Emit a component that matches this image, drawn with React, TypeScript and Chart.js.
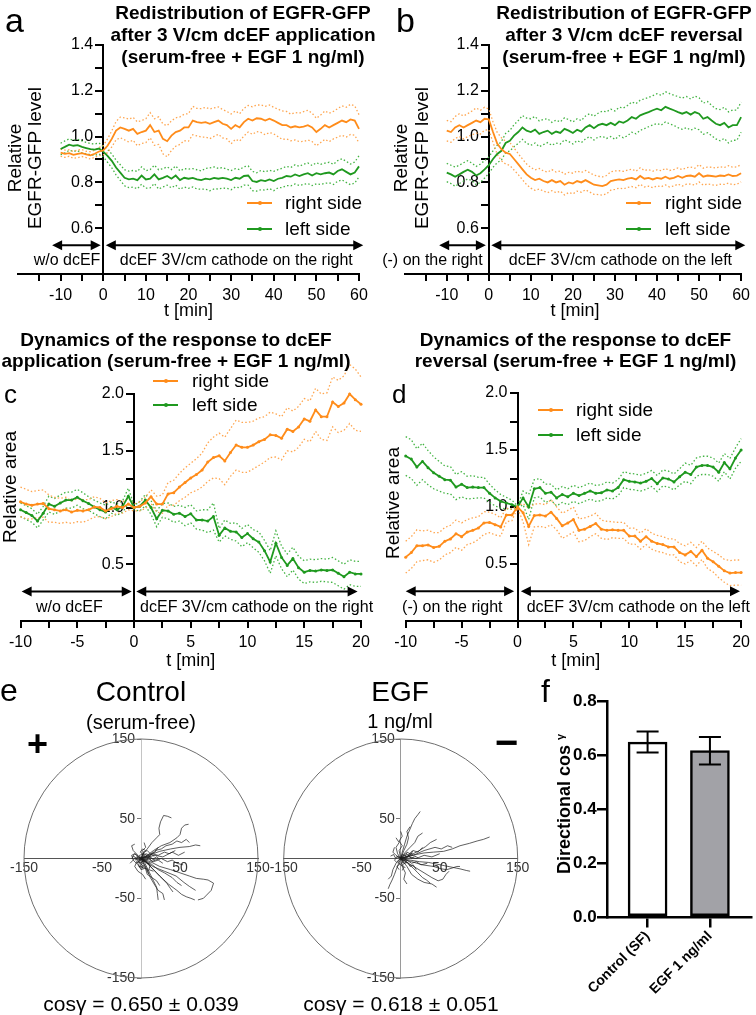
import React, { useEffect, useRef } from "react";
import { Chart, registerables } from "chart.js";

Chart.register(...registerables);

const FONT = '"Liberation Sans", Arial, Helvetica, sans-serif';
Chart.defaults.font.family = FONT;
Chart.defaults.color = "#000";

const ORANGE = "#ff8c1a";
const ORANGE_DOT = "#ffa650";
const GREEN = "#1f991f";
const GREEN_DOT = "#44b444";

// ---------- panels a / b : time (min) ----------
const timeAB = [-10, -9, -8, -7, -6, -5, -4, -3, -2, -1, 0, 1, 2, 3, 4, 5, 6, 7, 8, 9, 10, 11, 12, 13, 14, 15, 16, 17, 18, 19, 20, 21, 22, 23, 24, 25, 26, 27, 28, 29, 30, 31, 32, 33, 34, 35, 36, 37, 38, 39, 40, 41, 42, 43, 44, 45, 46, 47, 48, 49, 50, 51, 52, 53, 54, 55, 56, 57, 58, 59, 60];

const aRightMean = [0.930, 0.925, 0.928, 0.920, 0.925, 0.928, 0.922, 0.918, 0.925, 0.935, 0.940, 0.960, 0.990, 1.026, 1.040, 1.034, 1.026, 1.034, 1.012, 1.020, 1.026, 1.050, 1.020, 1.026, 0.990, 0.980, 1.004, 1.020, 1.026, 1.040, 1.040, 1.070, 1.063, 1.060, 1.063, 1.056, 1.063, 1.070, 1.056, 1.050, 1.034, 1.050, 1.040, 1.063, 1.078, 1.070, 1.080, 1.078, 1.070, 1.078, 1.070, 1.060, 1.050, 1.050, 1.040, 1.045, 1.040, 1.044, 1.050, 1.040, 1.020, 1.034, 1.050, 1.040, 1.050, 1.060, 1.070, 1.063, 1.075, 1.070, 1.034];
const aRightSem = [0.015, 0.016, 0.014, 0.015, 0.017, 0.015, 0.014, 0.016, 0.015, 0.018, 0.020, 0.030, 0.035, 0.040, 0.045, 0.048, 0.050, 0.050, 0.052, 0.050, 0.052, 0.055, 0.058, 0.060, 0.065, 0.068, 0.065, 0.062, 0.060, 0.058, 0.060, 0.062, 0.060, 0.062, 0.065, 0.065, 0.062, 0.060, 0.062, 0.060, 0.065, 0.062, 0.060, 0.060, 0.058, 0.060, 0.058, 0.060, 0.062, 0.060, 0.058, 0.060, 0.062, 0.060, 0.058, 0.060, 0.062, 0.065, 0.065, 0.062, 0.060, 0.060, 0.062, 0.062, 0.060, 0.062, 0.064, 0.065, 0.066, 0.064, 0.062];
const aLeftMean = [0.946, 0.955, 0.965, 0.960, 0.963, 0.955, 0.950, 0.945, 0.943, 0.948, 0.934, 0.916, 0.894, 0.865, 0.843, 0.820, 0.813, 0.816, 0.810, 0.830, 0.813, 0.816, 0.835, 0.813, 0.820, 0.828, 0.816, 0.830, 0.810, 0.820, 0.816, 0.820, 0.813, 0.810, 0.816, 0.813, 0.820, 0.816, 0.820, 0.816, 0.810, 0.820, 0.816, 0.828, 0.830, 0.806, 0.802, 0.810, 0.806, 0.813, 0.806, 0.816, 0.820, 0.828, 0.825, 0.835, 0.828, 0.835, 0.840, 0.830, 0.840, 0.835, 0.840, 0.843, 0.835, 0.850, 0.857, 0.846, 0.835, 0.843, 0.870];
const aLeftSem = [0.025, 0.026, 0.025, 0.024, 0.025, 0.026, 0.025, 0.024, 0.025, 0.024, 0.022, 0.028, 0.030, 0.032, 0.034, 0.035, 0.036, 0.036, 0.038, 0.038, 0.038, 0.040, 0.040, 0.042, 0.040, 0.040, 0.040, 0.042, 0.040, 0.040, 0.042, 0.040, 0.042, 0.040, 0.045, 0.050, 0.048, 0.045, 0.045, 0.042, 0.042, 0.040, 0.040, 0.040, 0.042, 0.042, 0.040, 0.042, 0.040, 0.040, 0.042, 0.040, 0.042, 0.042, 0.040, 0.042, 0.042, 0.044, 0.045, 0.044, 0.046, 0.044, 0.044, 0.045, 0.044, 0.045, 0.046, 0.046, 0.045, 0.046, 0.046];

const bRightMean = [1.026, 1.020, 1.040, 1.050, 1.040, 1.050, 1.060, 1.070, 1.063, 1.078, 1.075, 1.020, 0.970, 0.945, 0.930, 0.924, 0.902, 0.880, 0.857, 0.835, 0.820, 0.810, 0.816, 0.806, 0.800, 0.810, 0.800, 0.806, 0.790, 0.800, 0.795, 0.806, 0.800, 0.810, 0.800, 0.790, 0.787, 0.784, 0.790, 0.806, 0.810, 0.813, 0.810, 0.816, 0.820, 0.813, 0.828, 0.816, 0.820, 0.813, 0.820, 0.816, 0.825, 0.816, 0.820, 0.828, 0.820, 0.828, 0.830, 0.825, 0.840, 0.825, 0.830, 0.828, 0.825, 0.830, 0.828, 0.835, 0.828, 0.830, 0.840];
const bRightSem = [0.045, 0.045, 0.048, 0.050, 0.050, 0.050, 0.052, 0.055, 0.052, 0.050, 0.045, 0.045, 0.048, 0.050, 0.050, 0.050, 0.048, 0.046, 0.045, 0.045, 0.045, 0.045, 0.045, 0.044, 0.045, 0.046, 0.045, 0.044, 0.045, 0.044, 0.045, 0.044, 0.043, 0.042, 0.042, 0.042, 0.040, 0.040, 0.040, 0.040, 0.040, 0.038, 0.038, 0.038, 0.038, 0.036, 0.036, 0.036, 0.036, 0.036, 0.035, 0.035, 0.036, 0.036, 0.036, 0.035, 0.036, 0.036, 0.037, 0.037, 0.038, 0.037, 0.037, 0.038, 0.038, 0.038, 0.037, 0.038, 0.038, 0.038, 0.038];
const bLeftMean = [0.843, 0.835, 0.825, 0.835, 0.846, 0.855, 0.846, 0.830, 0.840, 0.857, 0.875, 0.902, 0.924, 0.938, 0.972, 0.982, 1.004, 1.020, 1.040, 1.026, 1.020, 1.030, 1.012, 1.020, 1.026, 1.012, 1.022, 1.016, 1.034, 1.026, 1.016, 1.030, 1.022, 1.040, 1.050, 1.037, 1.050, 1.056, 1.050, 1.060, 1.050, 1.066, 1.060, 1.070, 1.085, 1.078, 1.093, 1.100, 1.107, 1.115, 1.122, 1.115, 1.130, 1.122, 1.115, 1.107, 1.100, 1.107, 1.096, 1.107, 1.100, 1.078, 1.085, 1.070, 1.056, 1.050, 1.060, 1.040, 1.050, 1.050, 1.085];
const bLeftSem = [0.040, 0.040, 0.042, 0.040, 0.040, 0.040, 0.038, 0.040, 0.040, 0.038, 0.036, 0.036, 0.038, 0.040, 0.042, 0.045, 0.048, 0.050, 0.052, 0.055, 0.058, 0.058, 0.056, 0.055, 0.052, 0.050, 0.050, 0.048, 0.048, 0.048, 0.048, 0.048, 0.048, 0.050, 0.050, 0.052, 0.052, 0.055, 0.058, 0.060, 0.062, 0.062, 0.065, 0.066, 0.066, 0.066, 0.066, 0.065, 0.064, 0.064, 0.065, 0.065, 0.066, 0.066, 0.066, 0.068, 0.068, 0.068, 0.068, 0.070, 0.070, 0.068, 0.068, 0.066, 0.066, 0.068, 0.068, 0.068, 0.066, 0.066, 0.066];

// ---------- panels c / d : time (min) ----------
const timeCD = [-10, -9.5, -9, -8.5, -8, -7.5, -7, -6.5, -6, -5.5, -5, -4.5, -4, -3.5, -3, -2.5, -2, -1.5, -1, -0.5, 0, 0.5, 1, 1.5, 2, 2.5, 3, 3.5, 4, 4.5, 5, 5.5, 6, 6.5, 7, 7.5, 8, 8.5, 9, 9.5, 10, 10.5, 11, 11.5, 12, 12.5, 13, 13.5, 14, 14.5, 15, 15.5, 16, 16.5, 17, 17.5, 18, 18.5, 19, 19.5, 20];

const cRightMean = [1.05, 1.03, 1.02, 1.03, 1.035, 0.99, 0.98, 0.97, 0.98, 0.96, 0.975, 0.97, 0.98, 1.005, 1.0, 0.97, 0.99, 1.01, 1.0, 1.03, 1.0, 1.01, 1.04, 1.095, 1.03, 1.03, 1.12, 1.13, 1.18, 1.22, 1.26, 1.29, 1.33, 1.40, 1.44, 1.455, 1.41, 1.485, 1.55, 1.53, 1.53, 1.55, 1.58, 1.60, 1.64, 1.635, 1.61, 1.69, 1.67, 1.71, 1.78, 1.76, 1.86, 1.80, 1.80, 1.93, 1.89, 1.92, 2.0, 1.95, 1.91];
const cRightSem = [0.13, 0.13, 0.12, 0.12, 0.12, 0.12, 0.11, 0.11, 0.11, 0.10, 0.10, 0.10, 0.09, 0.09, 0.08, 0.07, 0.07, 0.06, 0.05, 0.05, 0.03, 0.04, 0.05, 0.06, 0.07, 0.08, 0.10, 0.11, 0.12, 0.13, 0.13, 0.14, 0.15, 0.17, 0.18, 0.20, 0.21, 0.21, 0.22, 0.22, 0.22, 0.21, 0.21, 0.20, 0.20, 0.19, 0.19, 0.19, 0.18, 0.18, 0.18, 0.18, 0.19, 0.20, 0.21, 0.22, 0.23, 0.24, 0.26, 0.27, 0.24];
const cLeftMean = [0.98, 0.955, 0.93, 0.88, 0.95, 1.03, 1.01, 1.04, 1.065, 1.065, 1.09, 1.06, 1.035, 1.005, 0.98, 0.96, 1.0, 0.98, 1.01, 1.10, 1.0, 1.01, 1.065, 1.0, 0.90, 0.975, 0.97, 0.94, 0.95, 0.92, 0.945, 0.89, 0.89, 0.88, 0.92, 0.755, 0.82, 0.79, 0.785, 0.735, 0.77, 0.725, 0.695, 0.62, 0.52, 0.685, 0.56, 0.49, 0.55, 0.47, 0.43, 0.445, 0.44, 0.45, 0.445, 0.45, 0.42, 0.39, 0.43, 0.415, 0.415];
const cLeftSem = [0.06, 0.06, 0.06, 0.06, 0.06, 0.07, 0.07, 0.07, 0.07, 0.07, 0.07, 0.07, 0.06, 0.06, 0.06, 0.06, 0.05, 0.05, 0.05, 0.07, 0.02, 0.04, 0.05, 0.06, 0.07, 0.06, 0.07, 0.07, 0.07, 0.08, 0.08, 0.08, 0.09, 0.10, 0.12, 0.06, 0.07, 0.07, 0.08, 0.08, 0.08, 0.08, 0.09, 0.09, 0.10, 0.11, 0.10, 0.10, 0.10, 0.10, 0.10, 0.10, 0.10, 0.10, 0.10, 0.11, 0.11, 0.11, 0.11, 0.11, 0.11];

const dRightMean = [0.56, 0.60, 0.66, 0.66, 0.667, 0.645, 0.655, 0.70, 0.72, 0.765, 0.74, 0.78, 0.795, 0.815, 0.86, 0.865, 0.845, 0.825, 0.93, 0.93, 1.0, 0.95, 0.83, 0.925, 0.93, 0.92, 0.955, 0.90, 0.835, 0.86, 0.89, 0.795, 0.805, 0.83, 0.855, 0.805, 0.795, 0.80, 0.795, 0.795, 0.745, 0.745, 0.70, 0.74, 0.70, 0.68, 0.67, 0.65, 0.65, 0.60, 0.58, 0.61, 0.565, 0.62, 0.55, 0.52, 0.48, 0.44, 0.42, 0.425, 0.425];
const dRightSem = [0.14, 0.14, 0.14, 0.13, 0.13, 0.13, 0.12, 0.12, 0.12, 0.12, 0.12, 0.11, 0.11, 0.10, 0.10, 0.09, 0.09, 0.08, 0.06, 0.05, 0.01, 0.08, 0.16, 0.10, 0.10, 0.10, 0.11, 0.10, 0.11, 0.11, 0.11, 0.10, 0.10, 0.09, 0.09, 0.08, 0.08, 0.07, 0.07, 0.07, 0.07, 0.07, 0.07, 0.07, 0.07, 0.07, 0.07, 0.07, 0.07, 0.08, 0.08, 0.08, 0.08, 0.08, 0.09, 0.09, 0.10, 0.10, 0.11, 0.11, 0.11];
const dLeftMean = [1.447, 1.42, 1.35, 1.40, 1.345, 1.30, 1.27, 1.24, 1.235, 1.175, 1.20, 1.17, 1.175, 1.17, 1.17, 1.12, 1.08, 1.05, 1.035, 1.02, 1.0, 1.08, 1.0, 1.16, 1.17, 1.12, 1.13, 1.08, 1.11, 1.09, 1.12, 1.10, 1.12, 1.14, 1.12, 1.125, 1.15, 1.14, 1.17, 1.24, 1.225, 1.22, 1.21, 1.225, 1.25, 1.205, 1.255, 1.245, 1.22, 1.265, 1.305, 1.285, 1.35, 1.365, 1.365, 1.35, 1.305, 1.39, 1.335, 1.43, 1.50];
const dLeftSem = [0.17, 0.17, 0.16, 0.16, 0.15, 0.14, 0.13, 0.12, 0.12, 0.11, 0.11, 0.10, 0.10, 0.09, 0.09, 0.08, 0.07, 0.06, 0.05, 0.04, 0.01, 0.06, 0.11, 0.08, 0.08, 0.08, 0.07, 0.07, 0.07, 0.07, 0.07, 0.07, 0.07, 0.07, 0.07, 0.07, 0.07, 0.07, 0.07, 0.07, 0.07, 0.07, 0.07, 0.07, 0.07, 0.07, 0.07, 0.07, 0.07, 0.07, 0.08, 0.08, 0.08, 0.08, 0.08, 0.08, 0.08, 0.08, 0.09, 0.09, 0.10];

// ---------- tick sets ----------
const xTicksAB = [-15, -10, -5, 0, 5, 10, 15, 20, 25, 30, 35, 40, 45, 50, 55, 60];
const xLabelsAB = [-10, 0, 10, 20, 30, 40, 50, 60];
const yTicksAB = [0.6, 0.7, 0.8, 0.9, 1.0, 1.1, 1.2, 1.3, 1.4];
const yLabelsAB = [0.6, 0.8, 1.0, 1.2, 1.4];
const xTicksCD = [-10, -7.5, -5, -2.5, 0, 2.5, 5, 7.5, 10, 12.5, 15, 17.5, 20];
const xLabelsCD = [-10, -5, 0, 5, 10, 15, 20];
const yTicksCD = [0.5, 0.75, 1.0, 1.25, 1.5, 1.75, 2.0];
const yLabelsCD = [0.5, 1.0, 1.5, 2.0];

// ---------- panel e : cell trajectories (µm) ----------
const polarTicks = [-150, -50, 50, 150];
const controlTracks: number[][][] = [
  [[0, 0], [3, 6], [8, 12], [14, 20], [20, 26], [24, 30], [23, 38], [25, 46], [29, 54], [34, 53], [39, 51]],
  [[0, 0], [8, 4], [16, 10], [26, 16], [37, 20], [46, 26], [50, 30], [52, 38], [56, 42], [61, 43]],
  [[0, 0], [10, 4], [24, 9], [38, 12], [50, 14], [62, 15], [70, 17], [76, 16]],
  [[0, 0], [12, -4], [24, -10], [38, -14], [50, -18], [62, -22], [71, -25], [80, -26], [86, -27], [93, -31], [90, -40], [84, -46], [80, -50], [73, -52]],
  [[0, 0], [8, -6], [14, -12], [20, -18], [27, -25], [33, -31], [38, -38], [41, -42]],
  [[0, 0], [5, -6], [11, -18], [16, -28], [20, -36], [21, -44], [22, -52]],
  [[0, 0], [10, -8], [24, -22], [35, -32], [46, -40], [52, -45], [58, -48], [64, -50], [69, -52]],
  [[0, 0], [15, -10], [30, -16], [45, -22], [55, -30], [62, -35], [70, -40]],
  [[0, 0], [-4, 4], [-10, 10], [-12, 16], [-8, 18]],
  [[0, 0], [6, 2], [14, 6], [22, 4], [30, 8], [36, 6], [44, 10]],
  [[0, 0], [-5, -3], [-8, -10], [-4, -16], [2, -20], [6, -26]],
  [[0, 0], [4, -2], [10, -1], [16, -4], [22, -2], [28, -6]],
  [[0, 0], [-6, 2], [-10, -2], [-6, -6], [-2, -4]],
  [[0, 0], [3, 8], [8, 10], [12, 6], [18, 8], [22, 14]],
  [[0, 0], [5, -10], [8, -20], [14, -24], [20, -28], [24, -34]],
  [[0, 0], [-3, -8], [0, -14], [6, -12], [10, -16]],
  [[0, 0], [10, 2], [18, -2], [26, 0], [34, -4], [40, -2], [46, -6], [54, -8]],
  [[0, 0], [6, 6], [12, 4], [18, 10], [26, 12], [32, 16], [40, 18], [46, 22], [52, 20], [58, 24], [62, 20]],
  [[0, 0], [-8, 6], [-12, 4], [-10, -2], [-14, -6]],
  [[0, 0], [4, 4], [2, 10], [6, 14], [4, 20]],
  [[0, 0], [8, -14], [12, -24], [18, -34], [22, -40], [28, -44], [30, -52]],
  [[0, 0], [12, -6], [22, -14], [30, -18], [40, -24], [46, -30], [52, -34]],
  [[0, 0], [-2, 4], [4, 6], [10, 2], [14, -4], [18, -2]],
  [[0, 0], [6, -4], [12, -8], [10, -14], [16, -16]],
  [[0, 0], [-4, -4], [2, -6], [-2, -10], [4, -12]],
  [[0, 0], [18, 4], [28, 2], [40, 8], [48, 4], [56, 8]],
  [[0, 0], [-3, 2], [-6, -1], [-9, 3], [-12, 0]],
  [[0, 0], [2, -3], [-1, -7], [3, -9], [1, -13]],
  [[0, 0], [5, 3], [9, 1], [13, 5], [17, 3]],
  [[0, 0], [-2, -2], [2, -4], [6, -3], [9, -7], [12, -5]],
  [[0, 0], [3, 5], [-1, 8], [2, 12], [6, 10]],
  [[0, 0], [-5, -6], [-2, -11], [3, -9], [7, -14], [10, -20]],
  [[0, 0], [7, -2], [11, 3], [15, -1], [20, 2], [24, -1]],
  [[0, 0], [-7, -2], [-4, 3], [-8, 6], [-11, 2]],
];
const egfTracks: number[][][] = [
  [[0, 0], [10, 3], [20, 5], [30, 7], [42, 8], [55, 9], [66, 12], [76, 16], [88, 19], [98, 22], [106, 24], [114, 27]],
  [[0, 0], [2, 8], [5, 18], [8, 28], [12, 37], [15, 44], [18, 50], [22, 55], [25, 59]],
  [[0, 0], [12, -2], [24, -4], [36, -5], [46, -7], [56, -9], [66, -11], [76, -13], [84, -15], [89, -16]],
  [[0, 0], [8, -5], [16, -12], [22, -18], [28, -24], [33, -27], [38, -31]],
  [[0, 0], [-2, -5], [-5, -12], [-8, -20], [-11, -27], [-14, -33], [-16, -38]],
  [[0, 0], [8, 3], [16, 6], [24, 10], [32, 15], [38, 20], [44, 23], [46, 24]],
  [[0, 0], [14, -4], [28, -8], [42, -10], [52, -13], [59, -14], [66, -12], [72, -10], [76, -10]],
  [[0, 0], [4, 10], [8, 18], [10, 26], [8, 34], [12, 40]],
  [[0, 0], [10, -6], [20, -12], [30, -18], [40, -24], [48, -28], [54, -26], [58, -20], [62, -16]],
  [[0, 0], [-4, 6], [-6, 14], [-2, 20], [-6, 26]],
  [[0, 0], [6, 8], [12, 14], [18, 20], [22, 28], [28, 32]],
  [[0, 0], [-6, -6], [-10, -14], [-12, -22], [-16, -26]],
  [[0, 0], [10, 2], [20, 0], [30, 4], [40, 2], [50, 6]],
  [[0, 0], [8, -10], [14, -20], [22, -26], [30, -30], [40, -32], [46, -36]],
  [[0, 0], [4, 2], [8, -4], [2, -8], [6, -12]],
  [[0, 0], [-4, 2], [-8, -2], [-4, -6]],
  [[0, 0], [6, 6], [12, 4], [16, 10], [22, 8], [28, 14]],
  [[0, 0], [3, -3], [8, -2], [14, -6], [20, -4], [26, -8], [34, -6]],
  [[0, 0], [-2, 10], [2, 16], [-2, 22], [2, 28], [0, 34]],
  [[0, 0], [16, 4], [30, 10], [44, 14], [52, 12], [60, 16], [66, 14]],
  [[0, 0], [2, -10], [6, -18], [4, -26], [8, -32]],
  [[0, 0], [-6, 4], [-10, 8], [-8, 14]],
  [[0, 0], [-3, 3], [-7, 1], [-9, 5], [-13, 3]],
  [[0, 0], [3, -4], [0, -8], [4, -11], [2, -15]],
  [[0, 0], [5, 4], [9, 2], [12, 7], [16, 5]],
  [[0, 0], [2, 5], [6, 3], [8, 8], [12, 6], [15, 10]],
  [[0, 0], [-4, -3], [-1, -7], [-5, -10], [-2, -14]],
  [[0, 0], [6, -1], [10, 4], [14, 0], [18, 3], [22, 1]],
  [[0, 0], [4, -6], [9, -5], [12, -10], [16, -8], [20, -14]],
];

// ---------- panel f ----------
const fCategories = ["Control (SF)", "EGF 1 ng/ml"];
const fMeans = [0.65, 0.618];
const fErrors = [0.039, 0.051];
const fYTicks = [0, 0.2, 0.4, 0.6, 0.8];

// ================= helpers =================
const has = (arr: number[], v: number) => arr.some((a) => Math.abs(a - v) < 1e-6);

// y axes placed at a data value draw their labels right on the axis line;
// move them left by tick length + padding.
function makeShiftYPlugin(dx: number) {
  return {
    id: "shiftY",
    beforeDraw(chart: any) {
      const sc = chart.scales.y;
      if (!sc || typeof sc.getLabelItems !== "function") return;
      const items = sc.getLabelItems(chart.chartArea);
      if (sc.__shiftedItems === items) return;
      items.forEach((it: any) => {
        if (it && it.options && it.options.translation) it.options.translation[0] -= dx;
      });
      sc.__shiftedItems = items;
    },
  };
}

function makeBandsPlugin(spec: any) {
  return {
    id: "bands",
    afterDatasetsDraw(chart: any) {
      const { ctx } = chart;
      const xs = chart.scales.x;
      const ys = chart.scales.y;
      ctx.save();
      ctx.strokeStyle = "#000";
      ctx.fillStyle = "#000";
      ctx.lineWidth = 2;
      const head = (tip: number, yy: number, dir: number) => {
        ctx.beginPath();
        ctx.moveTo(tip, yy);
        ctx.lineTo(tip + dir * 10, yy - 5);
        ctx.lineTo(tip + dir * 10, yy + 5);
        ctx.closePath();
        ctx.fill();
      };
      for (const a of spec.arrows) {
        const x1 = xs.getPixelForValue(a.from);
        const x2 = xs.getPixelForValue(a.to);
        const yy = ys.getPixelForValue(a.y);
        ctx.beginPath();
        ctx.moveTo(x1 + 6, yy);
        ctx.lineTo(x2 - 6, yy);
        ctx.stroke();
        head(x1, yy, 1);
        head(x2, yy, -1);
      }
      ctx.font = `16px ${FONT}`;
      ctx.textAlign = "center";
      ctx.textBaseline = "alphabetic";
      for (const n of spec.notes) {
        ctx.fillText(n.text, xs.getPixelForValue(n.x), ys.getPixelForValue(n.y));
      }
      ctx.restore();
    },
  };
}

function makeLineConfig(p: any) {
  const datasets: any[] = [];
  p.series.forEach((s: any) => {
    datasets.push({
      data: s.mean.map((v: number, i: number) => ({ x: p.t[i], y: v })),
      borderColor: s.color,
      backgroundColor: s.color,
      borderWidth: p.meanWidth,
      pointRadius: p.pointRadius,
      pointHoverRadius: 0,
      pointBorderWidth: 0,
      pointBackgroundColor: s.color,
      tension: 0,
      clip: false,
      order: 0,
    });
  });
  p.series.forEach((s: any) => {
    const up = s.mean.map((v: number, i: number) => ({ x: p.t[i], y: v + s.sem[i] }));
    const lo = s.mean.map((v: number, i: number) => ({ x: p.t[i], y: v - s.sem[i] }));
    [up, lo].forEach((d) =>
      datasets.push({
        data: d,
        borderColor: s.dot,
        borderWidth: 1.3,
        borderDash: [1.5, 2.2],
        pointRadius: 0,
        pointHoverRadius: 0,
        tension: 0,
        clip: false,
        order: 1,
      })
    );
  });
  return {
    type: "line",
    data: { datasets },
    options: {
      animation: false,
      responsive: false,
      devicePixelRatio: 1,
      layout: { padding: p.padding },
      events: [],
      plugins: { legend: { display: false }, tooltip: { enabled: false } },
      scales: {
        x: {
          type: "linear",
          min: p.xMin,
          max: p.xMax,
          position: { y: p.yMin },
          afterBuildTicks: (sc: any) => {
            sc.ticks = p.xTicks.map((v: number) => ({ value: v }));
          },
          ticks: {
            autoSkip: false,
            maxRotation: 0,
            padding: 6,
            color: "#000",
            font: { size: 16, family: FONT },
            callback: (v: number) => (has(p.xLabels, v) ? String(v) : ""),
          },
          grid: { display: true, drawOnChartArea: false, drawTicks: true, tickLength: 6, color: "#000", lineWidth: 2 },
          border: { display: true, color: "#000", width: 2 },
        },
        y: {
          type: "linear",
          min: p.yMin,
          max: p.yMax,
          position: { x: 0 },
          afterBuildTicks: (sc: any) => {
            sc.ticks = p.yTicks.map((v: number) => ({ value: v }));
          },
          ticks: {
            autoSkip: false,
            padding: 3,
            color: "#000",
            font: { size: 16, family: FONT },
            callback: (v: number) => (has(p.yLabels, v) ? v.toFixed(1) : ""),
          },
          grid: { display: true, drawOnChartArea: false, drawTicks: true, tickLength: 7, color: "#000", lineWidth: 2 },
          border: { display: true, color: "#000", width: 2 },
        },
      },
    },
    plugins: [makeBandsPlugin(p), makeShiftYPlugin(10)],
  };
}

const circlePlugin = {
  id: "circle",
  beforeDatasetsDraw(chart: any) {
    const { ctx } = chart;
    const xs = chart.scales.x;
    const ys = chart.scales.y;
    const cx = xs.getPixelForValue(0);
    const cy = ys.getPixelForValue(0);
    const rx = xs.getPixelForValue(150) - cx;
    const ry = cy - ys.getPixelForValue(150);
    ctx.save();
    ctx.strokeStyle = "#6e6e6e";
    ctx.lineWidth = 1;
    ctx.beginPath();
    ctx.ellipse(cx, cy, rx, ry, 0, 0, Math.PI * 2);
    ctx.stroke();
    ctx.restore();
  },
};

function makePolarConfig(tracks: number[][][], padding: any, vColor: string) {
  return {
    type: "scatter",
    data: {
      datasets: tracks.map((tr) => ({
        data: tr.map(([x, y]) => ({ x, y })),
        showLine: true,
        borderColor: "#1a1a1a",
        borderWidth: 0.7,
        pointRadius: 0,
        pointHoverRadius: 0,
        tension: 0,
        clip: false,
      })),
    },
    options: {
      animation: false,
      responsive: false,
      devicePixelRatio: 1,
      events: [],
      layout: { padding },
      plugins: { legend: { display: false }, tooltip: { enabled: false } },
      scales: {
        x: {
          type: "linear",
          min: -150,
          max: 150,
          position: { y: 0 },
          afterBuildTicks: (sc: any) => {
            sc.ticks = polarTicks.map((v) => ({ value: v }));
          },
          ticks: { autoSkip: false, maxRotation: 0, padding: 1, color: "#333", font: { size: 14, family: FONT }, callback: (v: number) => String(v) },
          grid: { display: true, drawOnChartArea: false, drawTicks: false, color: "#555" },
          border: { display: true, color: "#555", width: 1 },
        },
        y: {
          type: "linear",
          min: -150,
          max: 150,
          position: { x: 0 },
          afterBuildTicks: (sc: any) => {
            sc.ticks = polarTicks.map((v) => ({ value: v }));
          },
          ticks: { autoSkip: false, padding: 3, color: "#333", font: { size: 14, family: FONT }, callback: (v: number) => String(v) },
          grid: { display: true, drawOnChartArea: false, drawTicks: true, tickLength: 4, color: "#777" },
          border: { display: true, color: vColor, width: 1 },
        },
      },
    },
    plugins: [circlePlugin, makeShiftYPlugin(6)],
  };
}

const errorBarPlugin = {
  id: "errbars",
  afterDatasetsDraw(chart: any) {
    const { ctx } = chart;
    const xs = chart.scales.x;
    const ys = chart.scales.y;
    ctx.save();
    ctx.strokeStyle = "#000";
    ctx.lineWidth = 2;
    fMeans.forEach((m, i) => {
      const cx = xs.getPixelForValue(i);
      const yt = ys.getPixelForValue(m + fErrors[i]);
      const yb = ys.getPixelForValue(m - fErrors[i]);
      ctx.beginPath();
      ctx.moveTo(cx, yt);
      ctx.lineTo(cx, yb);
      ctx.moveTo(cx - 11, yt);
      ctx.lineTo(cx + 11, yt);
      ctx.moveTo(cx - 11, yb);
      ctx.lineTo(cx + 11, yb);
      ctx.stroke();
    });
    ctx.restore();
  },
};

function makeBarConfig() {
  const xMin = -0.64;
  return {
    type: "bar",
    data: {
      datasets: [
        {
          data: fMeans.map((v, i) => ({ x: i, y: v })),
          backgroundColor: ["#ffffff", "#a2a2a7"],
          borderColor: "#000",
          borderWidth: 2.5,
          borderSkipped: false,
          barThickness: 39,
        },
      ],
    },
    options: {
      animation: false,
      responsive: false,
      devicePixelRatio: 1,
      events: [],
      layout: { padding: { left: 67.7, right: 4.3, top: 31.7, bottom: 98 } },
      plugins: { legend: { display: false }, tooltip: { enabled: false } },
      scales: {
        x: {
          type: "linear",
          min: xMin,
          max: 1.67,
          offset: false,
          position: { y: 0 },
          afterBuildTicks: (sc: any) => {
            sc.ticks = fCategories.map((_, i) => ({ value: i }));
          },
          ticks: {
            autoSkip: false,
            minRotation: 45,
            maxRotation: 45,
            padding: 2,
            color: "#000",
            font: { size: 14, weight: "bold", family: FONT },
            callback: (v: number) => fCategories[Math.round(v)] ?? "",
          },
          grid: { display: true, offset: false, drawOnChartArea: false, drawTicks: true, tickLength: 9, color: "#000", lineWidth: 2.5 },
          border: { display: true, color: "#000", width: 2.5 },
        },
        y: {
          type: "linear",
          min: 0,
          max: 0.8,
          position: { x: xMin },
          afterBuildTicks: (sc: any) => {
            sc.ticks = fYTicks.map((v) => ({ value: v }));
          },
          ticks: {
            autoSkip: false,
            padding: 2,
            color: "#000",
            font: { size: 17, weight: "bold", family: FONT },
            callback: (v: number) => v.toFixed(1),
          },
          grid: { display: true, drawOnChartArea: false, drawTicks: true, tickLength: 9, color: "#000", lineWidth: 2.5 },
          border: { display: true, color: "#000", width: 2.5 },
        },
      },
    },
    plugins: [errorBarPlugin, makeShiftYPlugin(11)],
  };
}

// ================= panel specs =================
const panelA = {
  t: timeAB,
  series: [
    { mean: aRightMean, sem: aRightSem, color: ORANGE, dot: ORANGE_DOT },
    { mean: aLeftMean, sem: aLeftSem, color: GREEN, dot: GREEN_DOT },
  ],
  xMin: -20, xMax: 60, yMin: 0.4, yMax: 1.4,
  xTicks: xTicksAB, xLabels: xLabelsAB, yTicks: yTicksAB, yLabels: yLabelsAB,
  padding: { left: 18, right: 19, top: 45, bottom: 56 },
  pointRadius: 0, meanWidth: 1.8,
  arrows: [{ from: -12, to: -0.6, y: 0.526 }, { from: 0.6, to: 61, y: 0.526 }],
  notes: [{ text: "w/o dcEF", x: -8.5, y: 0.44 }, { text: "dcEF 3V/cm cathode on the right", x: 31.2, y: 0.44 }],
};
const panelB = {
  t: timeAB,
  series: [
    { mean: bRightMean, sem: bRightSem, color: ORANGE, dot: ORANGE_DOT },
    { mean: bLeftMean, sem: bLeftSem, color: GREEN, dot: GREEN_DOT },
  ],
  xMin: -20, xMax: 60, yMin: 0.4, yMax: 1.4,
  xTicks: xTicksAB, xLabels: xLabelsAB, yTicks: yTicksAB, yLabels: yLabelsAB,
  padding: { left: 26.7, right: 10.3, top: 45, bottom: 56 },
  pointRadius: 0, meanWidth: 1.8,
  arrows: [{ from: -11.8, to: -0.7, y: 0.526 }, { from: 0.6, to: 61, y: 0.526 }],
  notes: [{ text: "(-) on the right", x: -13.4, y: 0.44 }, { text: "dcEF 3V/cm cathode on the left", x: 31.3, y: 0.44 }],
};
const panelC = {
  t: timeCD,
  series: [
    { mean: cRightMean, sem: cRightSem, color: ORANGE, dot: ORANGE_DOT },
    { mean: cLeftMean, sem: cLeftSem, color: GREEN, dot: GREEN_DOT },
  ],
  xMin: -10, xMax: 20, yMin: 0, yMax: 2.0,
  xTicks: xTicksCD, xLabels: xLabelsCD, yTicks: yTicksCD, yLabels: yLabelsCD,
  padding: { left: 20.5, right: 17, top: 64, bottom: 59 },
  pointRadius: 1.5, meanWidth: 1.8,
  arrows: [{ from: -9.9, to: -0.2, y: 0.26 }, { from: 0.2, to: 19.7, y: 0.26 }],
  notes: [{ text: "w/o dcEF", x: -5.7, y: 0.075 }, { text: "dcEF 3V/cm cathode on the right", x: 10.8, y: 0.075 }],
};
const panelD = {
  t: timeCD,
  series: [
    { mean: dRightMean, sem: dRightSem, color: ORANGE, dot: ORANGE_DOT },
    { mean: dLeftMean, sem: dLeftSem, color: GREEN, dot: GREEN_DOT },
  ],
  xMin: -10, xMax: 20, yMin: 0, yMax: 2.0,
  xTicks: xTicksCD, xLabels: xLabelsCD, yTicks: yTicksCD, yLabels: yLabelsCD,
  padding: { left: 27.7, right: 10.3, top: 63, bottom: 59 },
  pointRadius: 1.5, meanWidth: 1.8,
  arrows: [{ from: -10, to: -0.3, y: 0.26 }, { from: 0.3, to: 19.9, y: 0.26 }],
  notes: [{ text: "(-) on the right", x: -5.83, y: 0.075 }, { text: "dcEF 3V/cm cathode on the left", x: 10.8, y: 0.075 }],
};

// ================= React pieces =================
function ChartBox({ left, top, width, height, make }: any) {
  const ref = useRef<HTMLCanvasElement>(null);
  useEffect(() => {
    const chart = new Chart(ref.current as HTMLCanvasElement, make());
    return () => chart.destroy();
  }, []);
  return <canvas ref={ref} width={width} height={height} style={{ position: "absolute", left, top, width, height }} />;
}

function Txt({ x, base, size, bold, align = "center", w = 420, children }: any) {
  const lh = Math.round(size * 1.15);
  const top = base - size * 0.905 - (lh - size * 1.117) / 2;
  const left = align === "center" ? x - w / 2 : align === "left" ? x : x - w;
  return (
    <div
      style={{
        position: "absolute",
        left,
        top,
        width: w,
        textAlign: align,
        fontSize: size,
        lineHeight: lh + "px",
        fontWeight: bold ? 700 : 400,
        fontFamily: FONT,
        whiteSpace: "nowrap",
        color: "#000",
      }}
    >
      {children}
    </div>
  );
}

function VText({ cx, cy, size, lh, bold, lines }: any) {
  const w = 240;
  const h = lines.length * lh;
  return (
    <div
      style={{
        position: "absolute",
        left: cx - w / 2,
        top: cy - h / 2,
        width: w,
        height: h,
        transform: "rotate(-90deg)",
        textAlign: "center",
        fontSize: size,
        lineHeight: lh + "px",
        fontWeight: bold ? 700 : 400,
        fontFamily: FONT,
        whiteSpace: "nowrap",
      }}
    >
      {lines.map((l: any, i: number) => (
        <div key={i}>{l}</div>
      ))}
    </div>
  );
}

function Legend({ x, textX, y1, y2 }: any) {
  const item = (y: number, color: string, label: string) => (
    <React.Fragment key={label}>
      <div style={{ position: "absolute", left: x, top: y - 1, width: 25, height: 2, background: color }} />
      <div style={{ position: "absolute", left: x + 10.5, top: y - 2, width: 4, height: 4, borderRadius: 2, background: color }} />
      <Txt x={textX} base={y + 7} size={19} align="left" w={120}>
        {label}
      </Txt>
    </React.Fragment>
  );
  return (
    <>
      {item(y1, ORANGE, "right side")}
      {item(y2, GREEN, "left side")}
    </>
  );
}

export default function App() {
  return (
    <div style={{ position: "absolute", left: 0, top: 0, width: 756, height: 1015, background: "#fff", overflow: "hidden", fontFamily: FONT }}>
      <ChartBox left={0} top={0} width={378} height={330} make={() => makeLineConfig(panelA)} />
      <ChartBox left={378} top={0} width={378} height={330} make={() => makeLineConfig(panelB)} />
      <ChartBox left={0} top={330} width={378} height={350} make={() => makeLineConfig(panelC)} />
      <ChartBox left={378} top={330} width={378} height={350} make={() => makeLineConfig(panelD)} />
      <ChartBox left={0} top={670} width={276} height={345} make={() => makePolarConfig(controlTracks, { left: 24, right: 18, top: 69, bottom: 37 }, "#c4c4c4")} />
      <ChartBox left={266} top={670} width={276} height={345} make={() => makePolarConfig(egfTracks, { left: 17.7, right: 24.3, top: 69, bottom: 37 }, "#9a9a9a")} />
      <ChartBox left={540} top={670} width={216} height={345} make={() => makeBarConfig()} />

      {/* panel letters */}
      <Txt x={5} base={32} size={34} align="left" w={40}>a</Txt>
      <Txt x={396} base={32} size={34} align="left" w={40}>b</Txt>
      <Txt x={4} base={403} size={26} align="left" w={40}>c</Txt>
      <Txt x={392} base={403} size={26} align="left" w={40}>d</Txt>
      <Txt x={0} base={702} size={32} align="left" w={40}>e</Txt>
      <Txt x={541} base={703} size={32} align="left" w={40}>f</Txt>

      {/* titles */}
      <Txt x={243} base={20} size={19} bold>Redistribution of EGFR-GFP</Txt>
      <Txt x={243} base={41.6} size={19} bold>after 3 V/cm dcEF application</Txt>
      <Txt x={243} base={63.2} size={19} bold>(serum-free + EGF 1 ng/ml)</Txt>
      <Txt x={624} base={20} size={19} bold>Redistribution of EGFR-GFP</Txt>
      <Txt x={624} base={41.6} size={19} bold>after 3 V/cm dcEF reversal</Txt>
      <Txt x={624} base={63.2} size={19} bold>(serum-free + EGF 1 ng/ml)</Txt>
      <Txt x={176} base={346.7} size={19} bold>Dynamics of the response to dcEF</Txt>
      <Txt x={176} base={368} size={19} bold>application (serum-free + EGF 1 ng/ml)</Txt>
      <Txt x={575.5} base={346.7} size={19} bold>Dynamics of the response to dcEF</Txt>
      <Txt x={575.5} base={368} size={19} bold>reversal (serum-free + EGF 1 ng/ml)</Txt>

      {/* axis titles */}
      <VText cx={24.5} cy={158} size={19} lh={20} lines={["Relative", "EGFR-GFP level"]} />
      <VText cx={411} cy={158} size={19} lh={21} lines={["Relative", "EGFR-GFP level"]} />
      <VText cx={10} cy={487} size={19} lh={20} lines={["Relative area"]} />
      <VText cx={393} cy={503} size={19} lh={20} lines={["Relative area"]} />
      <Txt x={188.5} base={317} size={18}>t [min]</Txt>
      <Txt x={575} base={317} size={18}>t [min]</Txt>
      <Txt x={190.7} base={667} size={18}>t [min]</Txt>
      <Txt x={575.7} base={667} size={18}>t [min]</Txt>
      <VText
        cx={560}
        cy={804}
        size={18}
        lh={20}
        bold
        lines={[
          <span key="d">
            Directional cos <sup style={{ fontSize: 11, verticalAlign: "6px" }}>γ</sup>
          </span>,
        ]}
      />

      {/* legends */}
      <Legend x={247} textX={285} y1={203} y2={229} />
      <Legend x={626} textX={665} y1={203} y2={229} />
      <Legend x={153} textX={192} y1={381} y2={405} />
      <Legend x={538} textX={576} y1={410} y2={435} />

      {/* panel e texts */}
      <Txt x={141} base={702} size={28}>Control</Txt>
      <Txt x={141} base={729} size={20}>(serum-free)</Txt>
      <Txt x={400} base={702} size={28}>EGF</Txt>
      <Txt x={400} base={728} size={20}>1 ng/ml</Txt>
      <Txt x={37.5} base={756} size={36} bold w={60}>+</Txt>
      <Txt x={506.5} base={756} size={40} bold w={60}>−</Txt>
      <Txt x={141} base={1011.5} size={21}>cosγ = 0.650 ± 0.039</Txt>
      <Txt x={401} base={1011.5} size={21}>cosγ = 0.618 ± 0.051</Txt>
    </div>
  );
}
